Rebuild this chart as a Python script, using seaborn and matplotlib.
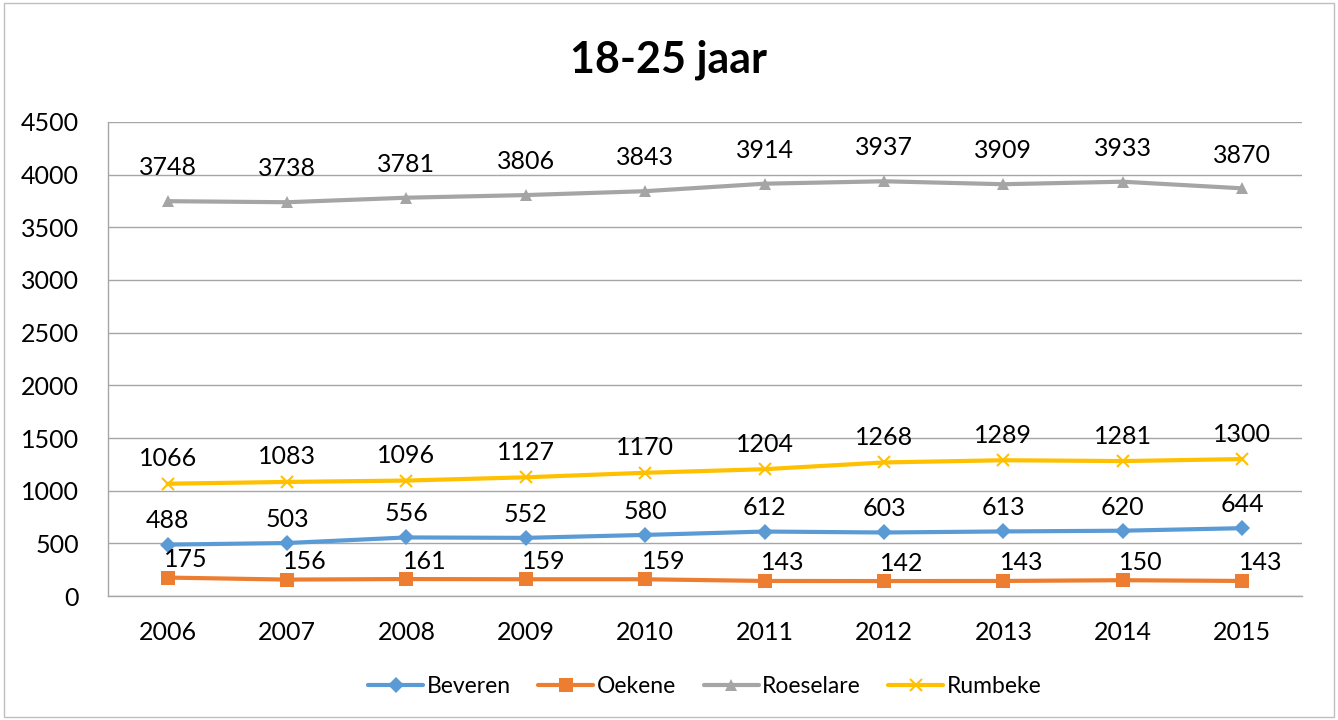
import matplotlib
matplotlib.use("Agg")
import matplotlib.pyplot as plt
import matplotlib.patches as patches
import seaborn as sns
import pandas as pd

years = [2006, 2007, 2008, 2009, 2010, 2011, 2012, 2013, 2014, 2015]
beveren = [488, 503, 556, 552, 580, 612, 603, 613, 620, 644]
oekene = [175, 156, 161, 159, 159, 143, 142, 143, 150, 143]
roeselare = [3748, 3738, 3781, 3806, 3843, 3914, 3937, 3909, 3933, 3870]
rumbeke = [1066, 1083, 1096, 1127, 1170, 1204, 1268, 1289, 1281, 1300]

series = {"Beveren": beveren, "Oekene": oekene, "Roeselare": roeselare, "Rumbeke": rumbeke}
colors = {"Beveren": "#5B9BD5", "Oekene": "#ED7D31", "Roeselare": "#A5A5A5", "Rumbeke": "#FFC000"}
markers = {"Beveren": "D", "Oekene": "s", "Roeselare": "^", "Rumbeke": "x"}
msizes = {"Beveren": 8, "Oekene": 10, "Roeselare": 9, "Rumbeke": 9}
# label offsets in points (dx, dy) from point to label centre
label_offsets = {"Beveren": (0, 17), "Oekene": (13, 13), "Roeselare": (0, 24), "Rumbeke": (0, 18)}

rows = []
for name, vals in series.items():
    for y, v in zip(years, vals):
        rows.append({"jaar": y, "aantal": v, "gemeente": name})
df = pd.DataFrame(rows)

sns.set_style("white")
plt.rcParams["font.family"] = ["Lato", "DejaVu Sans"]
plt.rcParams["text.color"] = "black"
plt.rcParams["xtick.color"] = "black"
plt.rcParams["ytick.color"] = "black"

fig = plt.figure(figsize=(13.38, 7.2), dpi=100)
ax = fig.add_axes([0.0807, 0.1722, 0.8923, 0.6584])

for name in series:
    sub = df[df["gemeente"] == name]
    sns.lineplot(data=sub, x="jaar", y="aantal", ax=ax, color=colors[name],
                 marker=markers[name], markersize=msizes[name], linewidth=3,
                 markeredgewidth=1.5 if name == "Rumbeke" else 0,
                 markeredgecolor=colors[name], label=name)
    dx, dy = label_offsets[name]
    for x, v in zip(sub["jaar"], sub["aantal"]):
        ax.annotate(str(v), (x, v), xytext=(dx, dy), textcoords="offset points",
                    ha="center", va="center", fontsize=18, color="black")

ax.set_xlim(2005.5, 2015.5)
ax.set_ylim(0, 4500)
ax.set_xticks(years)
ax.set_xticklabels([str(y) for y in years])
ax.set_yticks(range(0, 4501, 500))
ax.tick_params(axis="both", labelsize=18, length=0, labelcolor="black")
ax.tick_params(axis="y", pad=21)
ax.tick_params(axis="x", pad=18)
ax.yaxis.grid(True, color="#A6A6A6", linewidth=1)
ax.set_axisbelow(True)
for s in ["top", "right"]:
    ax.spines[s].set_visible(False)
for s in ["left", "bottom"]:
    ax.spines[s].set_color("#A6A6A6")
    ax.spines[s].set_linewidth(1)
ax.set_xlabel("")
ax.set_ylabel("")

fig.suptitle("18-25 jaar", fontsize=31, fontweight="bold", y=0.917, x=0.5, va="center",
             color="black")

ax.legend(loc="center", bbox_to_anchor=(0.5, -0.19), ncol=4, frameon=False,
          fontsize=16.5, handlelength=2.4, columnspacing=1.2, handletextpad=0.15,
          labelcolor="black")

fig.patches.append(patches.Rectangle((0.003, 0.004), 0.994, 0.992, transform=fig.transFigure,
                                     fill=False, edgecolor="#BFBFBF", linewidth=1))

fig.savefig("out.png", dpi=100)
